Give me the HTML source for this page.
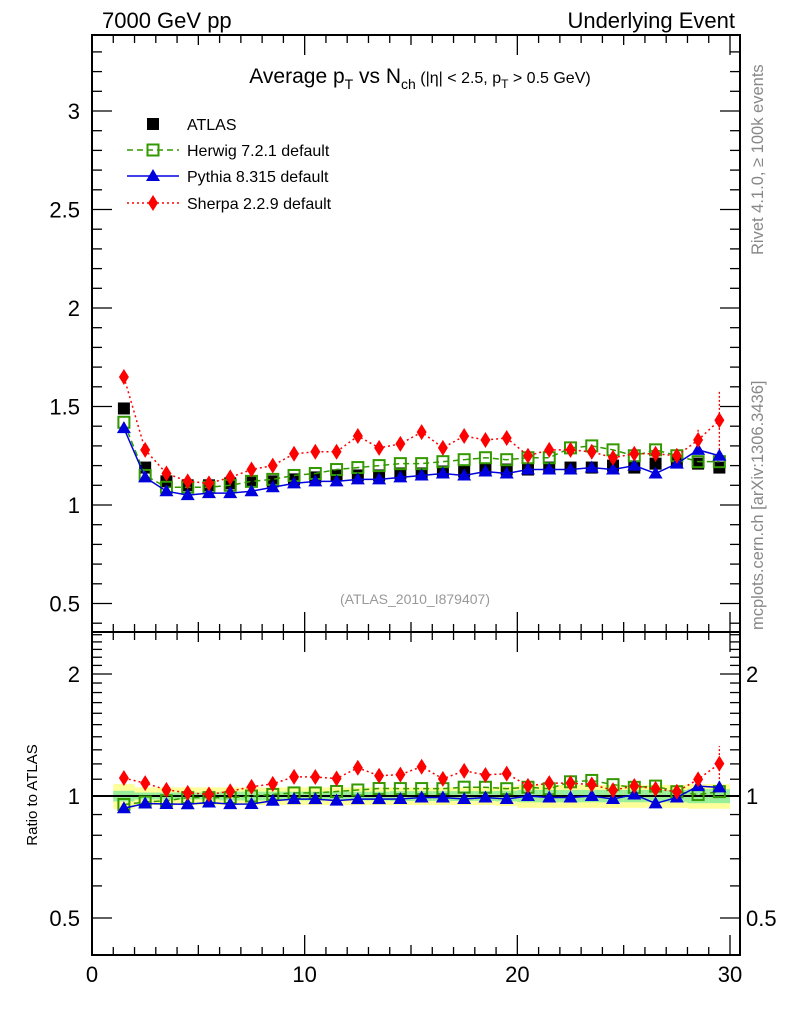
<!DOCTYPE html>
<html><head><meta charset="utf-8">
<style>
body{margin:0;background:#fff;width:786px;height:1024px;overflow:hidden}
svg text{font-family:"Liberation Sans",sans-serif}
</style></head>
<body>
<svg id="chart" width="786" height="1024" viewBox="0 0 786 1024">
<g id="bands"></g>
<g id="frames"></g>
<g id="series"></g>
<text x="102" y="28" font-size="22">7000 GeV pp</text>
<text x="735" y="28" font-size="22" text-anchor="end">Underlying Event</text>
<text x="420" y="83" font-size="21" text-anchor="middle">Average p<tspan font-size="14" dy="6">T</tspan><tspan dy="-6"> vs N</tspan><tspan font-size="14" dy="6">ch</tspan><tspan dy="-6" font-size="16"> (|η| &lt; 2.5, p</tspan><tspan font-size="12" dy="5">T</tspan><tspan dy="-5" font-size="16"> &gt; 0.5 GeV)</tspan></text>
<text x="415" y="604" font-size="14" fill="#999" text-anchor="middle">(ATLAS_2010_I879407)</text>
<text transform="translate(763,255) rotate(-90)" font-size="16.5" fill="#888">Rivet 4.1.0, ≥ 100k events</text>
<text transform="translate(763,630) rotate(-90)" font-size="16.5" fill="#888">mcplots.cern.ch [arXiv:1306.3436]</text>
<text transform="translate(37,795) rotate(-90)" font-size="15" text-anchor="middle">Ratio to ATLAS</text>
<g id="legend"></g>
</svg>
<script>
const xs=[1.5,2.5,3.5,4.5,5.5,6.5,7.5,8.5,9.5,10.5,11.5,12.5,13.5,14.5,15.5,16.5,17.5,18.5,19.5,20.5,21.5,22.5,23.5,24.5,25.5,26.5,27.5,28.5,29.5];
const atlas=[1.49,1.19,1.12,1.10,1.10,1.11,1.12,1.12,1.13,1.14,1.15,1.15,1.15,1.16,1.16,1.17,1.17,1.18,1.18,1.18,1.19,1.19,1.19,1.20,1.19,1.21,1.22,1.21,1.19];
const atlasStat=[0.03,0.02,0.02,0.02,0.02,0.025,0.025,0.025,0.025,0.025,0.025,0.025,0.025,0.028,0.028,0.028,0.028,0.028,0.03,0.035,0.035,0.035,0.035,0.035,0.035,0.035,0.035,0.04,0.04];
const atlasSyst=[0.07,0.05,0.05,0.05,0.05,0.05,0.05,0.05,0.05,0.05,0.05,0.05,0.05,0.05,0.05,0.05,0.05,0.05,0.055,0.065,0.065,0.065,0.065,0.065,0.065,0.065,0.065,0.07,0.07];
const herwig=[1.42,1.15,1.09,1.09,1.09,1.10,1.12,1.13,1.15,1.16,1.18,1.19,1.20,1.21,1.21,1.22,1.23,1.24,1.23,1.24,1.24,1.29,1.30,1.28,1.25,1.28,1.25,1.22,1.22];
const pythia=[1.39,1.14,1.07,1.05,1.06,1.06,1.07,1.09,1.11,1.12,1.12,1.13,1.13,1.14,1.15,1.16,1.15,1.17,1.16,1.18,1.18,1.18,1.19,1.18,1.20,1.16,1.21,1.28,1.25];
const sherpa=[1.65,1.28,1.16,1.12,1.11,1.14,1.18,1.20,1.26,1.27,1.27,1.35,1.29,1.31,1.37,1.29,1.35,1.33,1.34,1.25,1.28,1.28,1.27,1.24,1.26,1.26,1.25,1.33,1.43];
const sherpaErr=[0.01,0.01,0.01,0.01,0.01,0.01,0.01,0.01,0.01,0.01,0.01,0.01,0.01,0.01,0.015,0.015,0.015,0.02,0.02,0.02,0.025,0.025,0.025,0.03,0.03,0.04,0.04,0.06,0.15];
const mainTicks=[0.5,1,1.5,2,2.5,3];
const ratioTicks=[0.5,1,2];
const xTicks=[0,10,20,30];

const NS='http://www.w3.org/2000/svg';
const L=92,R=740,T1=35,B1=632,T2=632,B2=955;
const X=v=>92+(v/30)*638;
const Y1=v=>505-(v-1)*197;
const Y2=v=>796-Math.log2(v)*122;
function mk(tag,attrs,parent){const e=document.createElementNS(NS,tag);for(const k in attrs)e.setAttribute(k,attrs[k]);parent.appendChild(e);return e;}
const fr=document.getElementById('frames'),bd=document.getElementById('bands'),sr=document.getElementById('series'),lg=document.getElementById('legend');

for(let i=0;i<xs.length;i++){
 const x0=X(xs[i]-0.5),x1=X(xs[i]+0.5);
 const y=mk('rect',{x:x0,y:Y2(1+atlasSyst[i]),width:x1-x0,height:Y2(1-atlasSyst[i])-Y2(1+atlasSyst[i]),fill:'#ffff99'},bd);
 
 
 const g=mk('rect',{x:x0,y:Y2(1+atlasStat[i]),width:x1-x0,height:Y2(1-atlasStat[i])-Y2(1+atlasStat[i]),fill:'#99ee99'},bd);
 
 
}
[[T1,B1],[T2,B2]].forEach(([t,b],pi)=>{
 const r=mk('rect',{x:L,y:t,width:R-L,height:b-t,fill:'none',stroke:'#000','stroke-width':2},fr);
 
 
 for(let v=0;v<=30;v++){
  const len=v%10===0?20:(v%5===0?10:8);
  mk('line',{x1:X(v),x2:X(v),y1:b,y2:b-len,stroke:'#000','stroke-width':1.3},fr);
  mk('line',{x1:X(v),x2:X(v),y1:t,y2:t+len,stroke:'#000','stroke-width':1.3},fr);
 }
});
for(let v=0.4;v<=3.36;v+=0.1){
 const vv=Math.round(v*10)/10, maj=Math.abs(vv*2-Math.round(vv*2))<1e-6, y=Y1(vv);
 if(y<T1||y>B1)continue;
 const len=maj?20:10;
 mk('line',{x1:L,x2:L+len,y1:y,y2:y,stroke:'#000','stroke-width':1.3},fr);
 mk('line',{x1:R,x2:R-len,y1:y,y2:y,stroke:'#000','stroke-width':1.3},fr);
}
mainTicks.forEach(v=>{const t=mk('text',{x:80,y:Y1(v)+8,'font-size':22,'text-anchor':'end'},fr);t.textContent=String(v);
 
 });
[0.5,0.6,0.7,0.8,0.9,1,1.1,1.2,1.3,1.4,1.5,1.6,1.7,1.8,1.9,2,2.1,2.2,2.3,2.4,2.5].forEach(v=>{
 const y=Y2(v); if(y<T2||y>B2)return; const len=(v===0.5||v===1||v===2)?20:10;
 mk('line',{x1:L,x2:L+len,y1:y,y2:y,stroke:'#000','stroke-width':1.3},fr);
 mk('line',{x1:R,x2:R-len,y1:y,y2:y,stroke:'#000','stroke-width':1.3},fr);
});
ratioTicks.forEach(v=>{
 const t=mk('text',{x:80,y:Y2(v)+8,'font-size':22,'text-anchor':'end'},fr);t.textContent=String(v);
 
 
 const t2=mk('text',{x:746,y:Y2(v)+8,'font-size':22},fr);t2.textContent=String(v);
 
 
});
xTicks.forEach(v=>{const t=mk('text',{x:X(v),y:982,'font-size':22,'text-anchor':'middle'},fr);t.textContent=String(v);
 
 });
mk('line',{x1:L,x2:R,y1:Y2(1),y2:Y2(1),stroke:'#000','stroke-width':2},fr);

function marker(kind,color,x,y,parent){
 let e;
 if(kind==='sq') e=mk('rect',{x:x-6,y:y-6,width:12,height:12,fill:'#000'},parent);
 else if(kind==='osq') e=mk('rect',{x:x-5.5,y:y-5.5,width:11,height:11,fill:'none',stroke:color,'stroke-width':2},parent);
 else if(kind==='tri') e=mk('polygon',{points:`${x},${y-7} ${x-7},${y+5} ${x+7},${y+5}`,fill:color},parent);
 else e=mk('polygon',{points:`${x},${y-8} ${x-5},${y} ${x},${y+8} ${x+5},${y}`,fill:color},parent);
 return e;
}
const defs=[
 {name:'herwig',d:herwig,kind:'osq',color:'#339900',dash:'6,4',label:'Herwig 7.2.1 default'},
 {name:'pythia',d:pythia,kind:'tri',color:'#0000dd',dash:'',label:'Pythia 8.315 default'},
 {name:'sherpa',d:sherpa,kind:'dia',color:'#ff0000',dash:'2,3',label:'Sherpa 2.2.9 default'}];
for(let i=0;i<xs.length;i++){
 const m=marker('sq','#000',X(xs[i]),Y1(atlas[i]),sr);
 
 
}
// sherpa error bars
xs.forEach((x,i)=>{
 const e=mk('line',{x1:X(x),x2:X(x),y1:Y1(sherpa[i]-sherpaErr[i]),y2:Y1(sherpa[i]+sherpaErr[i]),stroke:'#ff0000','stroke-width':1.3,'stroke-dasharray':'2,2'},sr);
 
 
 const r=sherpa[i]/atlas[i], re=sherpaErr[i]/atlas[i];
 const e2=mk('line',{x1:X(x),x2:X(x),y1:Y2(r-re),y2:Y2(r+re),stroke:'#ff0000','stroke-width':1.3,'stroke-dasharray':'2,2'},sr);
 
 
});
defs.forEach(s=>{
 const pts1=xs.map((x,i)=>X(x)+','+Y1(s.d[i])).join(' ');
 const pts2=xs.map((x,i)=>X(x)+','+Y2(s.d[i]/atlas[i])).join(' ');
 const l1=mk('polyline',{points:pts1,fill:'none',stroke:s.color,'stroke-width':1.5,'stroke-dasharray':s.dash},sr);
 
 
 const l2=mk('polyline',{points:pts2,fill:'none',stroke:s.color,'stroke-width':1.5,'stroke-dasharray':s.dash},sr);
 
 
 xs.forEach((x,i)=>{
  const a=marker(s.kind,s.color,X(x),Y1(s.d[i]),sr);
  
  
  const b=marker(s.kind,s.color,X(x),Y2(s.d[i]/atlas[i]),sr);
  
  
 });
});
const ly=[124,150,176,203];
const lm=marker('sq','#000',153,ly[0],lg);


const lt0=mk('text',{x:187,y:ly[0]+6,'font-size':16},lg);lt0.textContent='ATLAS';


defs.forEach((s,k)=>{
 const y=ly[k+1];
 mk('line',{x1:127,x2:179,y1:y,y2:y,stroke:s.color,'stroke-width':1.5,'stroke-dasharray':s.dash},lg);
 const m=marker(s.kind,s.color,153,y,lg);
 
 
 const t=mk('text',{x:187,y:y+6,'font-size':16},lg);t.textContent=s.label;
 
 
});
</script>
</body></html>
